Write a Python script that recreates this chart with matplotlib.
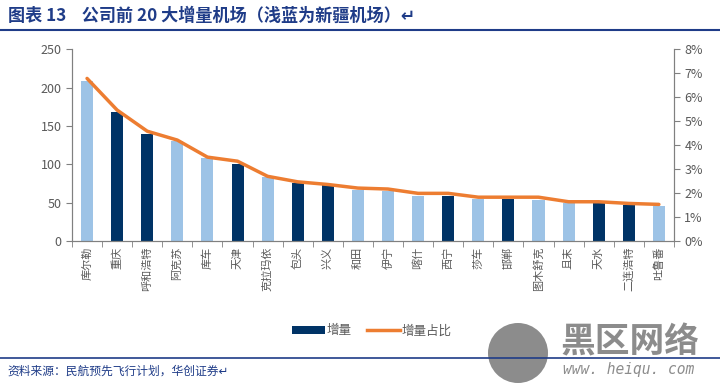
import numpy as np
import matplotlib.pyplot as plt
from matplotlib.patches import Patch, Circle
from matplotlib.lines import Line2D
from matplotlib.ticker import PercentFormatter

plt.rcParams['font.family'] = ['Noto Sans CJK SC', 'DejaVu Sans']

airports = ['库尔勒', '重庆', '呼和浩特', '阿克苏', '库车', '天津', '克拉玛依', '包头', '兴义', '和田',
            '伊宁', '喀什', '西宁', '莎车', '邯郸', '图木舒克', '且末', '天水', '二连浩特', '吐鲁番']
increase = [208, 168, 140, 130, 108, 101, 83, 76, 72.5, 66,
            65, 59, 58.5, 55, 54.5, 54, 49, 49, 46.5, 46]
share = [6.78, 5.46, 4.58, 4.21, 3.50, 3.33, 2.70, 2.47, 2.36, 2.21,
         2.17, 1.99, 1.99, 1.83, 1.83, 1.83, 1.64, 1.64, 1.57, 1.53]
xinjiang = [True, False, False, True, True, False, True, False, False, True,
            True, True, False, True, False, True, True, False, False, True]

NAVY = '#003366'
LIGHT = '#9DC3E6'
ORANGE = '#ED7D31'
GREY = '#595959'
TITLE_BLUE = '#1F3C88'
MARK = '#8C8C8C'

fig = plt.figure(figsize=(7.2, 3.87), dpi=100)
ax = fig.add_axes([0.1, 0.377, 0.836, 0.496])
ax2 = ax.twinx()

x = np.arange(len(airports))
colours = [LIGHT if xj else NAVY for xj in xinjiang]
ax.bar(x, increase, width=0.4, color=colours, zorder=2)
ax2.plot(x, share, color=ORANGE, linewidth=2.5, solid_capstyle='round', zorder=3)

ax.set_xlim(-0.5, len(airports) - 0.5)
ax.set_ylim(0, 250)
ax.set_yticks(range(0, 251, 50))
ax2.set_ylim(0, 8)
ax2.set_yticks(range(0, 9))
ax2.yaxis.set_major_formatter(PercentFormatter(decimals=0))

ax.set_xticks(x)
ax.set_xticklabels(airports, rotation=90, fontsize=8, color=GREY)
ax.set_xticks(np.arange(-0.5, len(airports)), minor=True)
ax.tick_params(axis='x', which='major', length=0, pad=4)
ax.tick_params(axis='x', which='minor', length=4, color='#808080', direction='out')
ax.tick_params(axis='y', labelsize=9, labelcolor=GREY, color='#808080', length=4)
ax2.tick_params(axis='y', labelsize=9, labelcolor=GREY, color='#808080', length=4)

for a in (ax, ax2):
  a.spines['top'].set_visible(False)
  for s in ('left', 'right', 'bottom'):
    a.spines[s].set_color('#808080')
    a.spines[s].set_linewidth(0.8)
ax.set_zorder(ax2.get_zorder() - 1)
ax2.patch.set_visible(False)
ax.patch.set_visible(False)

handles = [Patch(facecolor=NAVY, label='增量'),
           Line2D([0], [0], color=ORANGE, linewidth=2.5, label='增量占比')]
fig.legend(handles=handles, loc='center', bbox_to_anchor=(0.516, 0.145), ncol=2,
           frameon=False, fontsize=9, handlelength=2.7, handleheight=0.55,
           handletextpad=0.1, columnspacing=1.2, labelcolor=GREY)

# title and rules
fig.text(0.011, 0.958, '图表 13    公司前 20 大增量机场（浅蓝为新疆机场）↵', fontsize=12.3,
         fontweight='bold', color=TITLE_BLUE, va='center', ha='left')
fig.add_artist(Line2D([0.0, 1.0], [0.923, 0.923], color=TITLE_BLUE, linewidth=1.5))

# watermark
fig.add_artist(Circle((518, 387 - 353), 30, transform=None,
                      facecolor=MARK, edgecolor='none', zorder=1))
fig.text(0.778, 0.117, '黑区网络', fontsize=25, color=MARK, va='center', ha='left',
         fontweight='bold', zorder=1)
fig.text(0.782, 0.044, 'www. heiqu. com', fontsize=10.5, color=MARK, va='center',
         ha='left', family='DejaVu Sans Mono', style='italic', zorder=1)

fig.add_artist(Line2D([0.0, 1.0], [0.075, 0.075], color=TITLE_BLUE, linewidth=1.2, zorder=3))
fig.text(0.011, 0.041, '资料来源：民航预先飞行计划，华创证券↵', fontsize=8.5,
         style='italic', color=TITLE_BLUE, va='center', ha='left')

fig.savefig('out.png', dpi=100)
